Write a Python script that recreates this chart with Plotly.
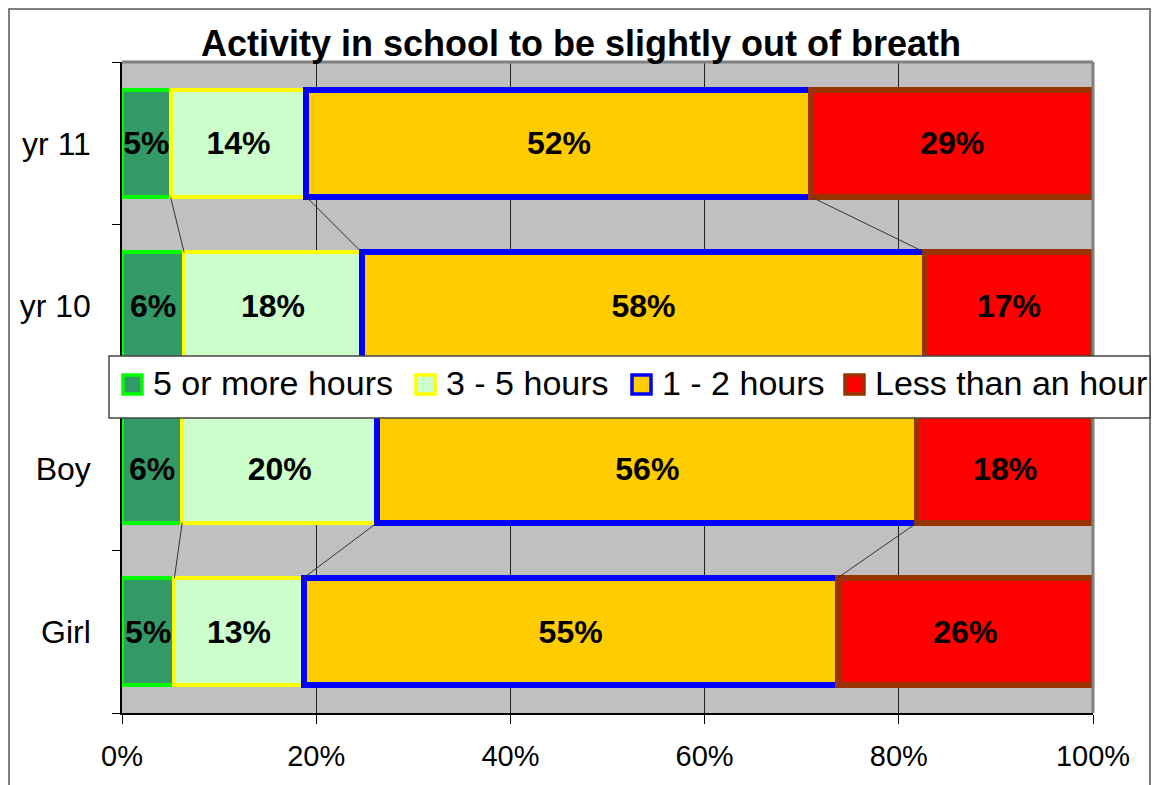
import plotly.graph_objects as go

# categories listed bottom -> top (plotly draws y upward)
CATEGORIES = ["Girl", "Boy", "yr 10", "yr 11"]

SERIES_NAMES = ["5 or more hours", "3 - 5 hours", "1 - 2 hours", "Less than an hour"]
FIVE_PLUS = [5.4, 6.2, 6.4, 5.0]
THREE_FIVE = [13.3, 20.1, 18.3, 14.0]
ONE_TWO = [55.0, 55.6, 58.0, 52.0]
LESS_HOUR = [26.3, 18.1, 17.3, 29.0]

X_TICKS = [0, 20, 40, 60, 80, 100]
X_TICK_LABELS = ["0%", "20%", "40%", "60%", "80%", "100%"]

FILLS = ["#339966", "#CCFFCC", "#FFCC00", "#FF0000"]
BORDERS = ["#00FF00", "#FFFF00", "#0000FF", "#993300"]
BORDER_W = [4, 4, 6, 6]

FONT = "Liberation Sans, Arial, sans-serif"
BAR_W = 0.66

# the page body has an 8px margin, so the figure is shifted by that much
OFF = 8
W, H = 1167 - OFF, 785 - OFF
L, R, T, B = 122 - OFF, 74, 62 - OFF, 72
PW, PH = W - L - R, H - T - B

# hand-placed legend (page x of each label's left edge)
LEG_TEXT_X = [153, 446, 662, 875]
LEG_Y = 384


def px_x(p):
    return (p - OFF - L) / PW


def px_y(p):
    return (H - B - (p - OFF)) / PH


series = [FIVE_PLUS, THREE_FIVE, ONE_TWO, LESS_HOUR]
ypos = list(range(len(CATEGORIES)))

fig = go.Figure()

# series lines between neighbouring bars (Excel style)
cum = []
for i in range(len(CATEGORIES)):
    run, row = 0, []
    for s in series[:-1]:
        run += s[i]
        row.append(run)
    cum.append(row)

lx, ly = [], []
for i in range(len(CATEGORIES) - 1):
    for k in range(len(series) - 1):
        lx += [cum[i + 1][k], cum[i][k], None]
        ly += [ypos[i + 1] - BAR_W / 2, ypos[i] + BAR_W / 2, None]
fig.add_trace(go.Scatter(x=lx, y=ly, mode="lines", line=dict(color="#333333", width=1),
                         showlegend=False, hoverinfo="skip"))

for name, vals, fc, bc, bw in zip(SERIES_NAMES, series, FILLS, BORDERS, BORDER_W):
    fig.add_trace(go.Bar(
        name=name, y=ypos, x=vals, orientation="h", width=BAR_W,
        marker=dict(color=fc, line=dict(color=bc, width=bw)),
        texttemplate="%{x:.0f}%", textposition="inside", insidetextanchor="middle",
        textangle=0, constraintext="none", showlegend=False,
        textfont=dict(family=FONT, size=32, color="black", weight="bold"),
    ))

fig.update_layout(
    width=W, height=H, autosize=False,
    margin=dict(l=L, r=R, t=T, b=B, autoexpand=False),
    barmode="stack",
    paper_bgcolor="white", plot_bgcolor="#C0C0C0",
    font=dict(family=FONT, color="black"),
    title=dict(text="<b>Activity in school to be slightly out of breath</b>",
               xref="paper", x=px_x(581), xanchor="center",
               y=1 - (43 - OFF) / H, yanchor="middle",
               font=dict(size=36, color="black")),
    xaxis=dict(range=[0, 100], tickvals=X_TICKS, ticktext=X_TICK_LABELS, showgrid=True,
               gridcolor="#222222", gridwidth=1, zeroline=False,
               showline=True, linecolor="black", linewidth=1.5,
               ticks="outside", ticklen=9, tickcolor="black",
               tickfont=dict(size=29), ticklabelstandoff=7, fixedrange=True),
    yaxis=dict(range=[-0.5, len(CATEGORIES) - 0.5], tickvals=ypos, ticktext=CATEGORIES,
               showgrid=False, zeroline=False, showline=True, linecolor="black", linewidth=1.5,
               ticks="", tickfont=dict(size=32), ticklabelstandoff=23,
               minor=dict(tickmode="array",
                          tickvals=[v - 0.5 for v in ypos] + [ypos[-1] + 0.5],
                          ticks="outside", ticklen=8, tickcolor="black", showgrid=False),
               fixedrange=True),
    showlegend=False,
)

# grey plot border on top and right, outer chart frame
fig.add_shape(type="line", xref="paper", yref="paper", x0=0, x1=1, y0=1, y1=1,
              line=dict(color="#808080", width=3))
fig.add_shape(type="line", xref="paper", yref="paper", x0=1, x1=1, y0=0, y1=1,
              line=dict(color="#808080", width=3))
fig.add_shape(type="rect", xref="paper", yref="paper",
              x0=px_x(OFF + 1), x1=px_x(1150), y0=px_y(800), y1=px_y(OFF + 1),
              line=dict(color="#555555", width=1.5), fillcolor="rgba(0,0,0,0)")

# legend box drawn by hand so it can sit across the plot in one row
fig.add_shape(type="rect", xref="paper", yref="paper",
              x0=px_x(109), x1=px_x(1150), y0=px_y(418), y1=px_y(356),
              line=dict(color="#444444", width=1.5), fillcolor="white")
for name, fc, bc, tx in zip(SERIES_NAMES, FILLS, BORDERS, LEG_TEXT_X):
    sx = tx - 30
    fig.add_shape(type="rect", xref="paper", yref="paper",
                  x0=px_x(sx), x1=px_x(sx + 19), y0=px_y(LEG_Y + 10), y1=px_y(LEG_Y - 9),
                  line=dict(color=bc, width=3.5), fillcolor=fc)
    fig.add_annotation(xref="paper", yref="paper", x=px_x(tx - 2), y=px_y(LEG_Y - 1),
                       text=name, showarrow=False, xanchor="left", yanchor="middle",
                       font=dict(family=FONT, size=34, color="black"))

fig.write_html("out.html", config={"displayModeBar": False})
